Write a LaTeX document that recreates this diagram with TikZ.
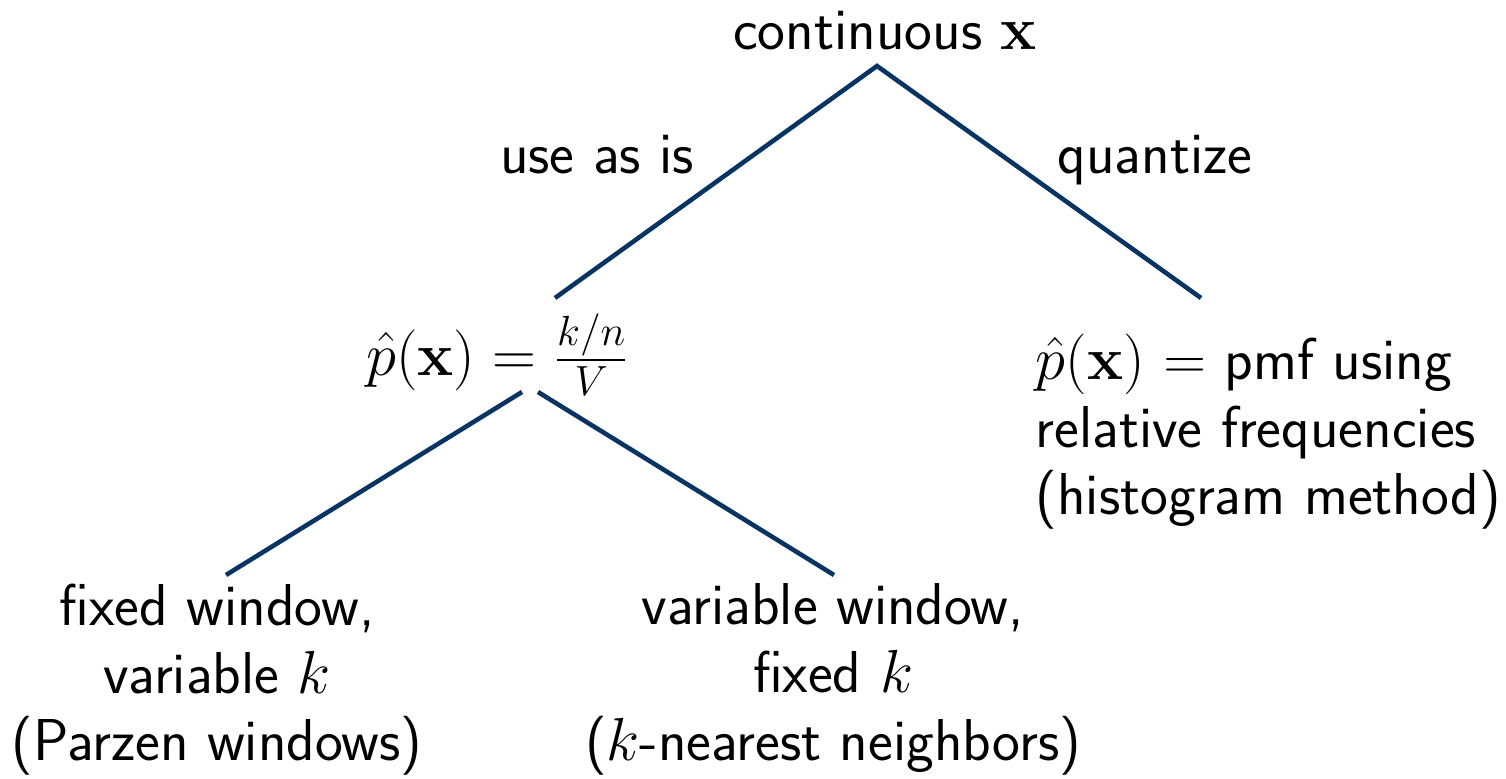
\documentclass[tikz,border=0pt]{standalone}
\usepackage{amsmath}
\definecolor{linecol}{RGB}{8,52,100}
\tikzset{
  lbl/.style={font=\sffamily\fontsize{16.8}{19.3}\selectfont, inner sep=0pt, text=black},
  conn/.style={draw=linecol, line width=1.3pt},
}
\begin{document}
\begin{tikzpicture}[x=0.01cm,y=-0.01cm]
\useasboundingbox (0,0) rectangle (1506,779);
\node[lbl, anchor=base] (top) at (885,50) {continuous $\mathbf{x}$};
\node[lbl, anchor=base] (useas) at (597,174) {use as is};
\node[lbl, anchor=base] (quant) at (1155,174) {quantize};
\node[lbl, anchor=base] (mid) at (498,375) {$\hat{p}(\mathbf{x}) = \frac{k/n}{V}$};
\node[lbl, anchor=north west, align=left] (hist) at (1035,333) {$\hat{p}(\mathbf{x})$ = pmf using\\relative frequencies\\(histogram method)};
\node[lbl, anchor=north, align=center] (parzen) at (217,583) {fixed window,\\variable $k$\\(Parzen windows)};
\node[lbl, anchor=north, align=center] (knn) at (833,583) {variable window,\\fixed $k$\\($k$-nearest neighbors)};
\coordinate (topj) at (877,66);
\coordinate (midl) at (555,298);
\coordinate (histr) at (1201,298);
\coordinate (midb1) at (522,392);
\coordinate (midb2) at (538,392);
\coordinate (parzt) at (226,575);
\coordinate (knnt) at (834,575);
\draw[conn] (midl) -- (topj) -- (histr);
\draw[conn] (midb1) -- (parzt);
\draw[conn] (midb2) -- (knnt);
\end{tikzpicture}
\end{document}
